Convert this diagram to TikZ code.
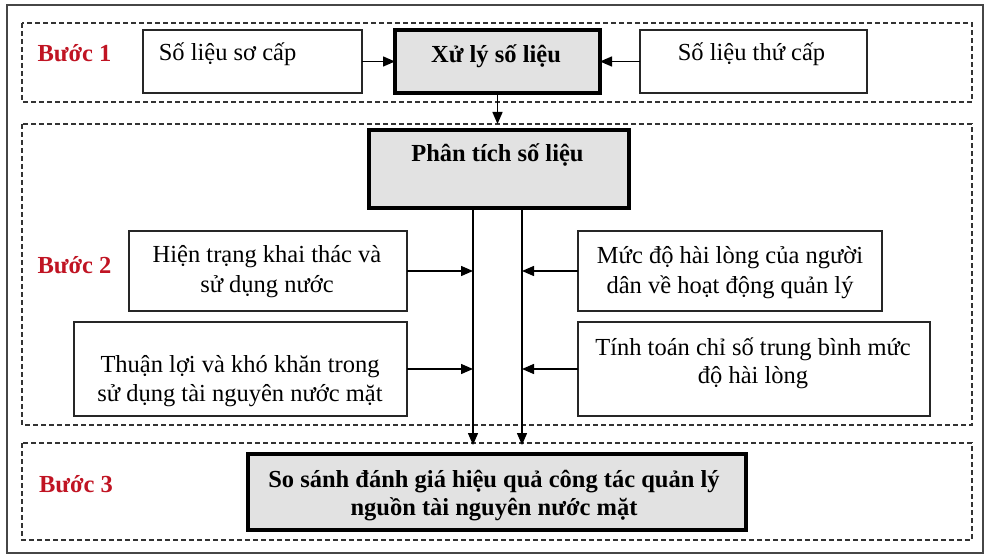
\documentclass[tikz,border=0pt]{standalone}
\usepackage{fontspec}
\setmainfont{Liberation Serif}
\usetikzlibrary{arrows.meta}
\definecolor{stepred}{RGB}{192,20,35}
\definecolor{boxgray}{RGB}{226,226,226}
\definecolor{framegray}{RGB}{70,70,70}
\tikzset{
  every node/.style={inner sep=0pt, outer sep=0pt},
  txt/.style={anchor=base, font=\fontsize{24.5}{29}\selectfont},
  btxt/.style={anchor=base, font=\fontsize{24.5}{29}\selectfont\bfseries},
  steplabel/.style={anchor=base, text=stepred, font=\fontsize{24.5}{29}\selectfont\bfseries},
  thinbox/.style={draw=black!85, line width=1.4pt, fill=white, rectangle},
  thickbox/.style={draw=black, line width=3.6pt, fill=boxgray, rectangle},
  dashbox/.style={draw=black!80, line width=1.3pt, dash pattern=on 5pt off 3pt},
  arr/.style={draw=black, line width=1.4pt, -{Triangle[length=12pt,width=10pt]}},
}
\begin{document}
\begin{tikzpicture}[x=1pt,y=-1pt]
\useasboundingbox (0,0) rectangle (984,556);
% outer frame
\draw[framegray, line width=1.6pt] (7,5) rectangle (983,553);
% dashed step areas
\draw[dashbox] (22,23) rectangle (972,102);
\draw[dashbox] (22,124) rectangle (972,425);
\draw[dashbox] (22,443) rectangle (972,540);

% step labels
\node[steplabel] (b1) at (74.5,62) {Bước 1};
\node[steplabel] (b2) at (74.5,273) {Bước 2};
\node[steplabel] (b3) at (76,492) {Bước 3};

% step 1 boxes
\node[thinbox, minimum width=219pt, minimum height=63pt] (socap) at (252.5,61.5) {};
\node[txt] (socapT) at (227.5,61) {Số liệu sơ cấp};
\node[thickbox, minimum width=205pt, minimum height=63pt] (xuly) at (497.5,61.5) {};
\node[btxt] (xulyT) at (496,63) {Xử lý số liệu};
\node[thinbox, minimum width=227pt, minimum height=63pt] (thucap) at (753.5,61.5) {};
\node[txt] (thucapT) at (751.5,61) {Số liệu thứ cấp};

% step 2 boxes
\node[thickbox, minimum width=260pt, minimum height=78pt] (phantich) at (499,169) {};
\node[btxt] (phantichT) at (497.5,162) {Phân tích số liệu};

\node[thinbox, minimum width=278pt, minimum height=80pt] (hientrang) at (268,271) {};
\node[txt] (hientrangA) at (267,262) {Hiện trạng khai thác và};
\node[txt] (hientrangB) at (267,292) {sử dụng nước};

\node[thinbox, minimum width=333pt, minimum height=94pt] (thuanloi) at (240.5,369) {};
\node[txt] (thuanloiA) at (240,372) {Thuận lợi và khó khăn trong};
\node[txt] (thuanloiB) at (240,401) {sử dụng tài nguyên nước mặt};

\node[thinbox, minimum width=304pt, minimum height=80pt] (mucdo) at (730,271) {};
\node[txt] (mucdoA) at (730,263) {Mức độ hài lòng của người};
\node[txt] (mucdoB) at (730,293) {dân về hoạt động quản lý};

\node[thinbox, minimum width=352pt, minimum height=94pt] (tinhtoan) at (754,369) {};
\node[txt] (tinhtoanA) at (753,355) {Tính toán chỉ số trung bình mức};
\node[txt] (tinhtoanB) at (753,383) {độ hài lòng};

% step 3 box
\node[thickbox, minimum width=498pt, minimum height=76pt] (sosanh) at (497,492) {};
\node[btxt] (sosanhA) at (494,487) {So sánh đánh giá hiệu quả công tác quản lý};
\node[btxt] (sosanhB) at (494,515) {nguồn tài nguyên nước mặt};

% collector lines
\coordinate (xL) at (473,0);
\coordinate (xR) at (522,0);

% connectors
\draw[arr] (socap.east) -- (socap.east -| xuly.west);
\draw[arr] (thucap.west) -- (thucap.west -| xuly.east);
\draw[arr, shorten >=6pt] (xuly.south) -- (xuly.south |- phantich.north);
\draw[arr, shorten >=9pt] (phantich.south -| xL) -- (sosanh.north -| xL);
\draw[arr, shorten >=9pt] (phantich.south -| xR) -- (sosanh.north -| xR);
\draw[arr] (hientrang.east) -- (hientrang.east -| xL);
\draw[arr] (thuanloi.east) -- (thuanloi.east -| xL);
\draw[arr] (mucdo.west) -- (mucdo.west -| xR);
\draw[arr] (tinhtoan.west) -- (tinhtoan.west -| xR);
\end{tikzpicture}
\end{document}
